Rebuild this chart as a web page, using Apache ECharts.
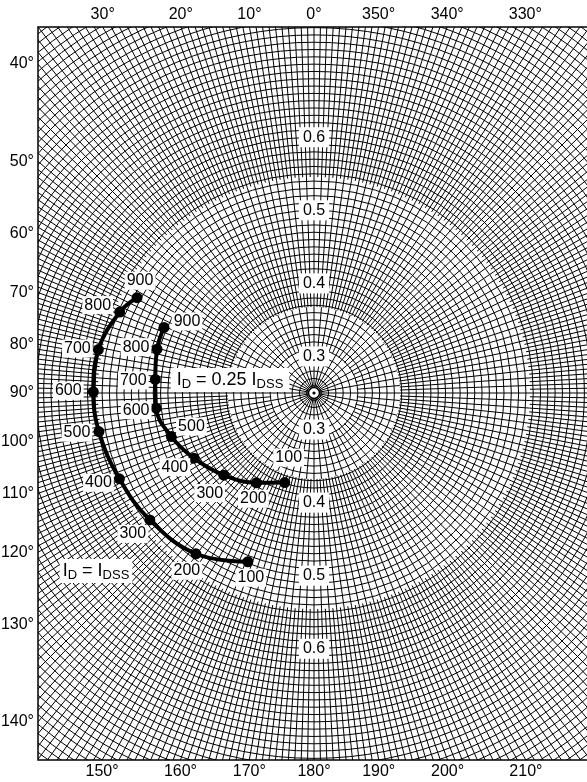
<!DOCTYPE html>
<html>
<head>
<meta charset="utf-8">
<script src="https://cdn.jsdelivr.net/npm/echarts@6/dist/echarts.min.js"></script>
<style>
  html, body { margin: 0; padding: 0; background: #fff; }
  #chart { width: 587px; height: 782px; }
</style>
</head>
<body>
<div id="chart"></div>
<script>
// frequency (MHz) of each marked point
var freqs = [100, 200, 300, 400, 500, 600, 700, 800, 900];
// I_D = I_DSS
var magFull = [0.498, 0.523, 0.534, 0.541, 0.549, 0.552, 0.551, 0.538, 0.525];
var angFull = [158.6, 143.7, 127.7, 113.8, 100.2, 89.7, 78.6, 67.4, 61.7];
// I_D = 0.25 I_DSS
var magQuarter = [0.379, 0.396, 0.417, 0.437, 0.454, 0.467, 0.468, 0.473, 0.474];
var angQuarter = [161.9, 147.3, 132.3, 118.5, 107.0, 95.5, 85.1, 74.4, 66.4];
// tick labels
var radiusTicks = [0.3, 0.4, 0.5, 0.6];
var topAngles = [30, 20, 10, 0, 350, 340, 330];
var leftAngles = [40, 50, 60, 70, 80, 90, 100, 110, 120, 130, 140];
var bottomAngles = [150, 160, 170, 180, 190, 200, 210];

// layout
var CX = 314, CY = 393, LEFT = 38, TOP = 27, BOTTOM = 760;
var R_MIN = 0.25, R_MAX = 0.90, R_PX = 475;
var FONT = "'Liberation Sans', Arial, sans-serif";
var offFull = [[3, 16], [-9, 17], [-17, 14], [-21, 4], [-22, 1], [-25, -1], [-21, -1], [-22, -7], [3, -17]];
var offQuarter = [[4, -25], [-3, 16], [-14, 18], [-19, 9], [20, -10], [-20, 2], [-22, 1], [-21, -2], [23, -6]];
// radial line density: [inner px, outer px, degrees between lines]
var bands = [[6, 43, 10], [43, 86, 5], [86, 216, 2], [216, R_PX, 1]];

var chart = echarts.init(document.getElementById('chart'));

var polars = [{ center: [CX, CY], radius: R_PX }];
var angleAxes = [{ polarIndex: 0, type: 'value', min: 0, max: 360, startAngle: 90, clockwise: false, show: false }];
var radiusAxes = [{
  polarIndex: 0, type: 'value', min: R_MIN, max: R_MAX, interval: 0.01,
  axisLine: { show: false }, axisTick: { show: false }, axisLabel: { show: false },
  splitLine: { show: true, lineStyle: { color: '#000', width: 1 } }
}];
bands.forEach(function (b, i) {
  polars.push({ center: [CX, CY], radius: [b[0], b[1]] });
  angleAxes.push({
    polarIndex: i + 1, type: 'value', min: 0, max: 360, interval: b[2],
    startAngle: 90, clockwise: false,
    axisLine: { show: false }, axisTick: { show: false }, axisLabel: { show: false },
    splitLine: { show: true, lineStyle: { color: '#000', width: 1 } }
  });
  radiusAxes.push({ polarIndex: i + 1, type: 'value', show: false });
});

function curve(mags, angs, offs) {
  return mags.map(function (m, i) {
    return { value: [m, angs[i]], label: { offset: offs[i] } };
  });
}

var lineLabel = {
  show: true, position: 'inside', color: '#000', fontFamily: FONT, fontSize: 16,
  backgroundColor: '#fff', padding: [1, 2],
  formatter: function (p) { return String(freqs[p.dataIndex]); }
};

var tickData = [];
radiusTicks.forEach(function (r) { tickData.push([r, 0]); tickData.push([r, 180]); });

var graphics = [
  { type: 'rect', z: 100, shape: { x: 0, y: 0, width: LEFT, height: 782 }, style: { fill: '#fff' } },
  { type: 'rect', z: 100, shape: { x: 0, y: 0, width: 587, height: TOP }, style: { fill: '#fff' } },
  { type: 'rect', z: 100, shape: { x: 0, y: BOTTOM, width: 587, height: 782 - BOTTOM }, style: { fill: '#fff' } },
  { type: 'polyline', z: 101, shape: { points: [[590, TOP], [LEFT, TOP], [LEFT, BOTTOM], [590, BOTTOM]] },
    style: { stroke: '#000', lineWidth: 1.5, fill: null } },
  { type: 'circle', z: 50, shape: { cx: CX, cy: CY, r: 5.5 }, style: { fill: '#fff', stroke: '#000', lineWidth: 1.5 } },
  { type: 'circle', z: 51, shape: { cx: CX, cy: CY, r: 1.6 }, style: { fill: '#000' } }
];

function angleText(x, y, a, align) {
  graphics.push({ type: 'text', z: 110, x: x, y: y,
    style: { text: a + '°', fill: '#000', font: '16px ' + FONT, align: align, verticalAlign: 'middle' } });
}
var rad = Math.PI / 180;
topAngles.forEach(function (a) { angleText(CX - (CY - TOP) * Math.tan(a * rad), 15, a, 'center'); });
leftAngles.forEach(function (a) { angleText(34, CY - (CX - LEFT) / Math.tan(a * rad), a, 'right'); });
bottomAngles.forEach(function (a) { angleText(CX - (BOTTOM - CY) * Math.tan((180 - a) * rad), 772, a, 'center'); });

var rich = {
  m: { fontSize: 18, fontFamily: FONT, color: '#000' },
  s: { fontSize: 13, fontFamily: FONT, color: '#000', padding: [9, 0, 0, 0] }
};
graphics.push({ type: 'text', z: 60, x: 230, y: 380,
  style: { text: '{m|I}{s|D}{m| = 0.25 I}{s|DSS}', rich: rich, align: 'center', verticalAlign: 'middle',
    backgroundColor: '#fff', padding: [1, 6] } });
graphics.push({ type: 'text', z: 60, x: 96, y: 571,
  style: { text: '{m|I}{s|D}{m| = I}{s|DSS}', rich: rich, align: 'center', verticalAlign: 'middle',
    backgroundColor: '#fff', padding: [1, 3] } });

chart.setOption({
  animation: false,
  polar: polars,
  angleAxis: angleAxes,
  radiusAxis: radiusAxes,
  series: [
    {
      name: 'ID = IDSS', type: 'line', coordinateSystem: 'polar', polarIndex: 0,
      smooth: 0.4, symbol: 'circle', symbolSize: 11, z: 5,
      lineStyle: { color: '#000', width: 4 }, itemStyle: { color: '#000' },
      label: lineLabel, data: curve(magFull, angFull, offFull)
    },
    {
      name: 'ID = 0.25 IDSS', type: 'line', coordinateSystem: 'polar', polarIndex: 0,
      smooth: 0.4, symbol: 'circle', symbolSize: 11, z: 5,
      lineStyle: { color: '#000', width: 4 }, itemStyle: { color: '#000' },
      label: lineLabel, data: curve(magQuarter, angQuarter, offQuarter)
    },
    {
      name: 'ticks', type: 'scatter', coordinateSystem: 'polar', polarIndex: 0,
      symbolSize: 1, itemStyle: { color: 'transparent', opacity: 1 }, z: 4,
      label: {
        show: true, position: 'inside', color: '#000', fontFamily: FONT, fontSize: 16,
        backgroundColor: '#fff', padding: [2, 4],
        formatter: function (p) { return p.value[0].toFixed(1); }
      },
      data: tickData
    }
  ],
  graphic: graphics
});
</script>
</body>
</html>
